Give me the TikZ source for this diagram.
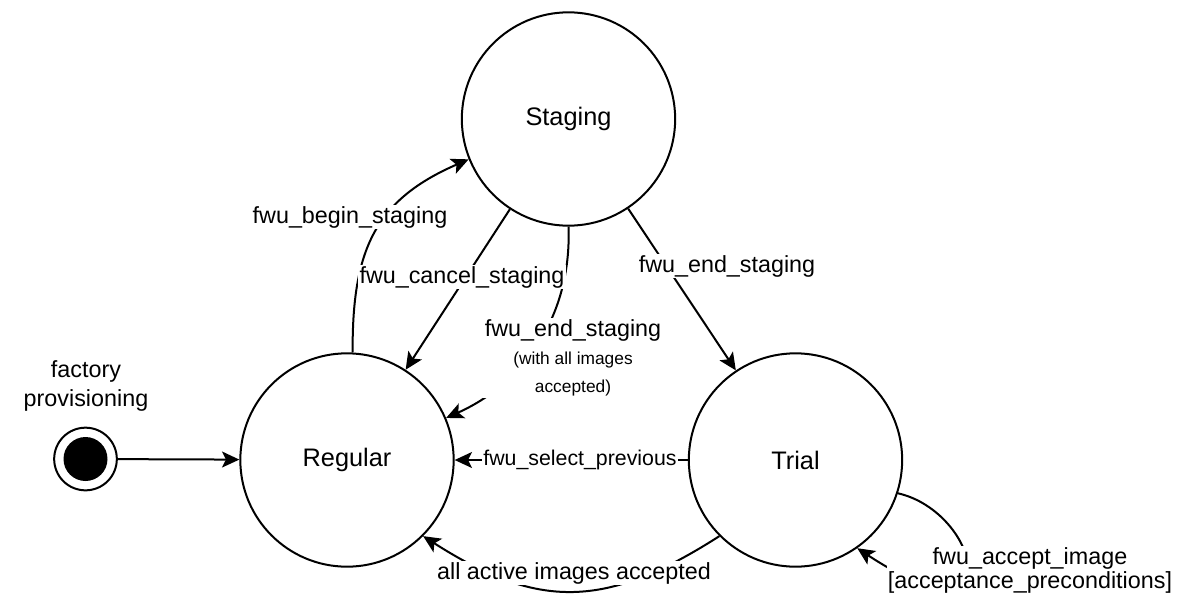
\documentclass[tikz,border=0pt]{standalone}
\usepackage{fontspec}
\setmainfont{Liberation Sans}
\usetikzlibrary{arrows.meta}

\begin{document}
\begin{tikzpicture}[x=0.75pt,y=-0.75pt,
            state/.style={circle,draw,line width=1.5pt,minimum size=160pt,inner sep=0pt,font=\fontsize{19}{23}\selectfont},
            trans/.style={line width=1.5pt,-{Stealth[length=13pt,width=12pt,inset=3pt]}},
            edgelabel/.style={fill=white,inner sep=1pt,align=center,font=\fontsize{17.5}{21}\selectfont}]

            \useasboundingbox (0,0) rectangle (1190,601);

            \node[state] (staging) at (568.5,119) {Staging};
            \node[state] (regular) at (347,460) {Regular};
            \node[state] (trial) at (795.5,460) {Trial};

            \node[circle,draw,line width=1.5pt,minimum size=47pt] (init) at (85.5,459) {};
            \node[circle,fill,minimum size=33pt] (initdot) at (init) {};
            \node[align=center,font=\fontsize{17.5}{21.75}\selectfont] (initlabel) at (86,386) {factory\\provisioning};

            \draw[trans] (init) -- (regular);
            \draw[trans] (regular.87) .. controls (352,250) and (375,200) .. (staging.202);
            \draw[trans] (staging) -- (regular);
            \draw[trans] (staging.-90) .. controls (572,320) and (520,385) .. (regular.23);
            \draw[trans] (staging) -- (trial);
            \draw[trans] (trial) -- (regular);
            \draw[trans] (trial.225) .. controls (605,609.5) and (538,609.5) .. (regular.-45);
            \draw[trans] (trial.-18) .. controls (980,512) and (1012,650) .. (trial.-55);

            \node[edgelabel] (lblbegin) at (350,217) {fwu\_begin\_staging};
            \node[edgelabel] (lblcancel) at (462,277) {fwu\_cancel\_staging};
            \node[edgelabel] (lblendmid) at (573,358)
            {
                fwu\_end\_staging\\
                {\fontsize{13}{20}\selectfont (with all images}\\
                {\fontsize{13}{20}\selectfont accepted)}
            };
            \node[edgelabel] (lblend) at (727,266) {fwu\_end\_staging};
            \node[edgelabel,font=\fontsize{16}{20}\selectfont] (lblselect) at (580,460) {fwu\_select\_previous};
            \node[edgelabel] (lblall) at (574,573) {all active images accepted};
            \node[edgelabel] (lblaccept) at (1030,570) {fwu\_accept\_image\\[-3pt][acceptance\_preconditions]};
\end{tikzpicture}
\end{document}
